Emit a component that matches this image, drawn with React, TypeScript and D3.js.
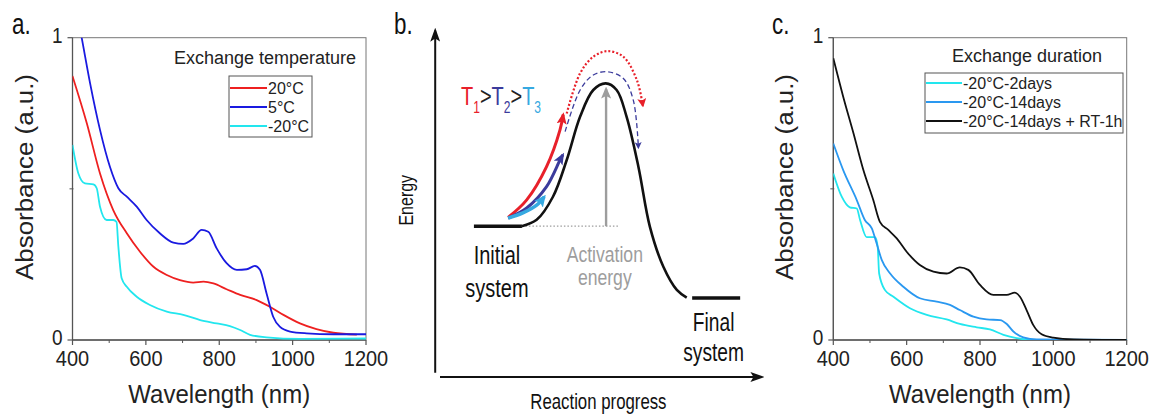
import React from 'react';
import * as d3 from 'd3';

type P = [number, number];

// ---------- Panel a: Exchange temperature ----------
const aRed: P[] = [[400,0.873],[439,0.717],[475,0.551],[511,0.430],[548,0.353],[584,0.292],[620,0.243],[657,0.215],[693,0.198],[729,0.190],[757,0.193],[784,0.187],[820,0.168],[857,0.149],[902,0.132],[938,0.110],[975,0.083],[1020,0.055],[1065,0.036],[1111,0.024],[1175,0.018]];
const aBlue: P[] = [[400,1.16],[425,1.0],[448,0.849],[475,0.695],[502,0.573],[525,0.502],[548,0.474],[575,0.441],[602,0.397],[638,0.353],[675,0.322],[702,0.318],[729,0.336],[752,0.364],[770,0.358],[793,0.303],[820,0.254],[848,0.232],[875,0.234],[897,0.245],[911,0.232],[929,0.154],[947,0.077],[965,0.044],[993,0.028],[1038,0.022],[1111,0.019],[1200,0.019]];
const aCyan: P[] = [[400,0.645],[416,0.551],[434,0.518],[457,0.515],[466,0.502],[475,0.441],[493,0.397],[511,0.397],[520,0.391],[525,0.309],[534,0.204],[548,0.176],[575,0.143],[611,0.116],[657,0.094],[702,0.083],[748,0.066],[793,0.055],[829,0.046],[857,0.033],[884,0.017],[929,0.009],[1020,0.004],[1200,0.005]];
const aLabels = ['20°C', '5°C', '-20°C'];
const aColors = ['#ee2020', '#1a1ae0', '#22e6ee'];

// ---------- Panel c: Exchange duration ----------
const cCyan: P[] = [[400,0.551],[423,0.474],[445,0.439],[464,0.435],[473,0.397],[491,0.340],[514,0.340],[521,0.309],[525,0.220],[541,0.165],[564,0.143],[609,0.105],[655,0.083],[709,0.068],[745,0.053],[791,0.042],[827,0.035],[864,0.017],[900,0.006],[945,0.0],[1200,0.0]];
const cBlue: P[] = [[400,0.650],[427,0.562],[464,0.463],[486,0.397],[505,0.369],[518,0.320],[532,0.265],[555,0.220],[591,0.176],[636,0.138],[682,0.127],[718,0.116],[745,0.099],[782,0.077],[818,0.068],[855,0.066],[873,0.053],[891,0.028],[918,0.009],[955,0.002],[1200,0.0]];
const cBlack: P[] = [[400,0.932],[427,0.805],[455,0.684],[482,0.562],[509,0.463],[527,0.391],[550,0.364],[573,0.336],[600,0.292],[636,0.248],[673,0.226],[709,0.220],[745,0.240],[768,0.232],[800,0.182],[836,0.149],[873,0.149],[895,0.157],[909,0.143],[927,0.099],[945,0.050],[968,0.019],[1000,0.008],[1055,0.002],[1200,0.0]];
const cLabels = ['-20°C-2days', '-20°C-14days', '-20°C-14days + RT-1h'];
const cColors = ['#22e6ee', '#2a98f0', '#111111'];

const xTicks = [400, 600, 800, 1000, 1200];
const xMinor = [500, 700, 900, 1100];
const yTicks = [0, 1];
const yMinor = [0.5];

// ---------- Panel b: energy diagram (progress 0-100, energy 0-100) ----------
const energyProfile: P[] = [[25.5,43.1],[30.2,44.9],[35.3,51.5],[39.6,62.0],[43.8,74.4],[47.9,82.0],[51.8,83.9],[55.2,82.0],[58.3,74.4],[62.0,60.1],[65.6,42.9],[69.8,31.5],[74.0,24.9],[77.1,22.7]];
const initialLevel: P[] = [[10.6,43.1],[25.6,43.1]];
const finalLevel: P[] = [[78.8,22.6],[93.8,22.6]];
const activationGuide: P[] = [[25.6,43.1],[55.6,43.1]];
const activationArrow: P[] = [[51.9,43.1],[51.9,82.3]];
const arrowT1: P[] = [[21.3,45.6],[27.1,50.6],[33.3,60.1],[37.5,70.6],[38.5,75.0]];
const arrowT2: P[] = [[21.3,45.4],[27.1,48.3],[33.3,54.4],[37.5,62.0],[38.4,63.5]];
const arrowT3: P[] = [[21.3,45.4],[25.9,46.9],[30.2,49.1],[32.6,51.5]];
const arcT2: P[] = [[39.1,70.1],[43.8,82.0],[47.9,86.3],[52.4,87.2],[57.3,85.3],[60.4,79.1],[62.0,65.5]];
const arcT1: P[] = [[39.6,75.3],[43.8,86.8],[47.9,91.5],[52.4,93.1],[57.3,91.5],[61.5,84.9],[63.4,77.5]];

const W = 1153;
const H = 414;
const SANS = "'Liberation Sans', Arial, sans-serif";
const CONDENSE = 0.8;

type NProps = { x: number; y: number; size: number; fill?: string; anchor?: string; rotate?: number; children: React.ReactNode };
function NText({ x, y, size, fill = '#111', anchor = 'start', rotate = 0, children }: NProps) {
  return (
    <text transform={`translate(${x},${y}) rotate(${rotate}) scale(${CONDENSE},1.04)`} textAnchor={anchor as any} fontFamily={SANS} fontSize={size} fill={fill}>
      {children}
    </text>
  );
}

type SpecProps = {
  left: number; right: number; top: number; bottom: number;
  series: P[][]; colors: string[]; labels: string[];
  title: string; titleX: number; titleY: number;
  boxX: number; boxY: number; boxW: number; boxH: number;
  rowY: number; rowDy: number; lineLen: number;
  tag: string; tagX: number; clipId: string;
};

function Spectrum(p: SpecProps) {
  const x = d3.scaleLinear().domain([400, 1200]).range([p.left, p.right]);
  const y = d3.scaleLinear().domain([0, 1]).range([p.bottom, p.top]);
  const line = d3.line<P>().x(d => x(d[0])).y(d => y(d[1])).curve(d3.curveMonotoneX);
  const axisColor = '#555';
  return (
    <g>
      <defs>
        <clipPath id={p.clipId}>
          <rect x={p.left} y={p.top} width={p.right - p.left} height={p.bottom - p.top} />
        </clipPath>
      </defs>
      <NText x={p.tagX} y={34} size={28}>{p.tag}</NText>
      <rect x={p.left} y={p.top} width={p.right - p.left} height={p.bottom - p.top} fill="none" stroke="#777" strokeWidth={1} />
      <line x1={p.left} x2={p.left} y1={p.top} y2={p.bottom} stroke={axisColor} strokeWidth={1.3} />
      <line x1={p.left} x2={p.right} y1={p.bottom} y2={p.bottom} stroke={axisColor} strokeWidth={1.3} />
      {xTicks.map(t => (
        <g key={'xt' + t}>
          <line x1={x(t)} x2={x(t)} y1={p.bottom} y2={p.bottom + 5} stroke={axisColor} strokeWidth={1.2} />
          <text transform={`translate(${x(t)},${p.bottom + 26}) scale(1,1.12)`} textAnchor="middle" fontFamily={SANS} fontSize={20} fill="#222">{t}</text>
        </g>
      ))}
      {xMinor.map(t => (
        <line key={'xm' + t} x1={x(t)} x2={x(t)} y1={p.bottom} y2={p.bottom + 3} stroke={axisColor} strokeWidth={1} />
      ))}
      {yTicks.map(t => (
        <g key={'yt' + t}>
          <line x1={p.left - 5} x2={p.left} y1={y(t)} y2={y(t)} stroke={axisColor} strokeWidth={1.2} />
          <text transform={`translate(${p.left - 10},${y(t) + 5}) scale(1,1.12)`} textAnchor="end" fontFamily={SANS} fontSize={19} fill="#222">{t}</text>
        </g>
      ))}
      {yMinor.map(t => (
        <line key={'ym' + t} x1={p.left - 3} x2={p.left + 1} y1={y(t)} y2={y(t)} stroke={axisColor} strokeWidth={1} />
      ))}
      <text transform={`translate(${(p.left + p.right) / 2},${p.bottom + 63}) scale(1,1.08)`} textAnchor="middle" fontFamily={SANS} fontSize={24} fill="#222">Wavelength (nm)</text>
      <text transform={`translate(${p.left - 40},${177}) rotate(-90) scale(1.08,1)`} textAnchor="middle" fontFamily={SANS} fontSize={24} fill="#222">Absorbance (a.u.)</text>
      <g clipPath={`url(#${p.clipId})`}>
        {p.series.map((s, i) => (
          <path key={'s' + i} d={line(s) || ''} fill="none" stroke={p.colors[i]} strokeWidth={1.8} />
        ))}
      </g>
      <text x={p.titleX} y={p.titleY + 6} textAnchor="middle" fontFamily={SANS} fontSize={18} fill="#222">{p.title}</text>
      <rect x={p.boxX} y={p.boxY} width={p.boxW} height={p.boxH} fill="#fff" stroke="#555" strokeWidth={1} />
      {p.labels.map((l, i) => (
        <g key={'lg' + i}>
          <line x1={p.boxX + 1} x2={p.boxX + p.lineLen} y1={p.rowY + i * p.rowDy} y2={p.rowY + i * p.rowDy} stroke={p.colors[i]} strokeWidth={2} />
          <text x={p.boxX + p.lineLen + 1} y={p.rowY + i * p.rowDy + 6} fontFamily={SANS} fontSize={16} fill="#222">{l}</text>
        </g>
      ))}
    </g>
  );
}

function EnergyDiagram() {
  const x = d3.scaleLinear().domain([0, 100]).range([440, 760]);
  const y = d3.scaleLinear().domain([0, 100]).range([377, 27]);
  const smooth = d3.line<P>().x(d => x(d[0])).y(d => y(d[1])).curve(d3.curveCatmullRom.alpha(0.5));
  const straight = d3.line<P>().x(d => x(d[0])).y(d => y(d[1]));
  const red = '#e8202a';
  const navy = '#3b3b9c';
  const lblue = '#36a9e1';
  const gray = '#9d9d9d';
  const marker = (id: string, color: string, len: number, wid: number) => (
    <marker id={id} markerUnits="userSpaceOnUse" markerWidth={len} markerHeight={wid} refX={len * 0.8} refY={wid / 2} orient="auto" viewBox={`0 0 ${len} ${wid}`}>
      <path d={`M0,0 L${len},${wid / 2} L0,${wid} L${len * 0.22},${wid / 2} Z`} fill={color} />
    </marker>
  );
  return (
    <g>
      <defs>
        {marker('mk-axis', '#111', 14, 10)}
        {marker('mk-red', red, 12, 10)}
        {marker('mk-navy', navy, 12, 10)}
        {marker('mk-lblue', lblue, 12, 11)}
        {marker('mk-gray', gray, 12, 10)}
        {marker('mk-red-s', red, 9, 9)}
        {marker('mk-navy-s', navy, 7, 7)}
      </defs>
      <NText x={394} y={34} size={28}>b.</NText>
      <line x1={x(-1.5)} x2={x(-1.5)} y1={y(1.2)} y2={y(99)} stroke="#111" strokeWidth={2} markerEnd="url(#mk-axis)" />
      <line x1={x(0)} x2={x(100.5)} y1={y(0)} y2={y(0)} stroke="#111" strokeWidth={2} markerEnd="url(#mk-axis)" />
      <NText x={x(-8.4)} y={y(50.5)} size={20} anchor="middle" rotate={-90}>Energy</NText>
      <NText x={x(49.5)} y={409} size={21} anchor="middle">Reaction progress</NText>
      <path d={straight(initialLevel) || ''} stroke="#111" strokeWidth={3.5} fill="none" />
      <path d={straight(finalLevel) || ''} stroke="#111" strokeWidth={3.5} fill="none" />
      <path d={straight(activationGuide) || ''} stroke={gray} strokeWidth={1.3} strokeDasharray="1.5 2" fill="none" />
      <path d={smooth(energyProfile) || ''} stroke="#111" strokeWidth={2.6} fill="none" />
      <path d={straight(activationArrow) || ''} stroke={gray} strokeWidth={2.4} fill="none" markerEnd="url(#mk-gray)" />
      <path d={smooth(arcT1) || ''} stroke={red} strokeWidth={2.2} strokeDasharray="2 2" fill="none" markerEnd="url(#mk-red-s)" />
      <path d={smooth(arcT2) || ''} stroke={navy} strokeWidth={1.3} strokeDasharray="5 3" fill="none" markerEnd="url(#mk-navy-s)" />
      <path d={smooth(arrowT1) || ''} stroke={red} strokeWidth={3} fill="none" markerEnd="url(#mk-red)" />
      <path d={smooth(arrowT2) || ''} stroke={navy} strokeWidth={3} fill="none" markerEnd="url(#mk-navy)" />
      <path d={smooth(arrowT3) || ''} stroke={lblue} strokeWidth={3.6} fill="none" markerEnd="url(#mk-lblue)" />
      <NText x={461} y={105} size={25}>
        <tspan fill={red}>T</tspan><tspan fill={red} fontSize={15} dy={8}>1</tspan>
        <tspan fill="#222" dy={-8}>&gt;</tspan>
        <tspan fill={navy}>T</tspan><tspan fill={navy} fontSize={15} dy={8}>2</tspan>
        <tspan fill="#222" dy={-8}>&gt;</tspan>
        <tspan fill={lblue}>T</tspan><tspan fill={lblue} fontSize={15} dy={8}>3</tspan>
      </NText>
      <NText x={x(17.8)} y={264} size={25} anchor="middle">Initial</NText>
      <NText x={x(17.8)} y={297} size={25} anchor="middle">system</NText>
      <NText x={x(85.5)} y={331} size={24} anchor="middle">Final</NText>
      <NText x={x(85.5)} y={361} size={24} anchor="middle">system</NText>
      <NText x={x(51.5)} y={262} size={22} anchor="middle" fill={gray}>Activation</NText>
      <NText x={x(51.5)} y={285} size={22} anchor="middle" fill={gray}>energy</NText>
    </g>
  );
}

export default function App() {
  return (
    <svg width={W} height={H} viewBox={`0 0 ${W} ${H}`} style={{ position: 'absolute', left: 0, top: 0, background: '#fff' }}>
      <rect x={0} y={0} width={W} height={H} fill="#fff" />
      <Spectrum
        left={72.5} right={366} top={37.7} bottom={340}
        series={[aRed, aBlue, aCyan]} colors={aColors} labels={aLabels}
        title="Exchange temperature" titleX={265} titleY={58}
        boxX={229} boxY={76} boxW={83} boxH={61} rowY={88} rowDy={19} lineLen={38}
        tag="a." tagX={12} clipId="clipA"
      />
      <EnergyDiagram />
      <Spectrum
        left={833.3} right={1126.7} top={37.7} bottom={340}
        series={[cCyan, cBlue, cBlack]} colors={cColors} labels={cLabels}
        title="Exchange duration" titleX={1027} titleY={56}
        boxX={925} boxY={73} boxW={198} boxH={60} rowY={83} rowDy={19} lineLen={37}
        tag="c." tagX={772} clipId="clipC"
      />
    </svg>
  );
}
